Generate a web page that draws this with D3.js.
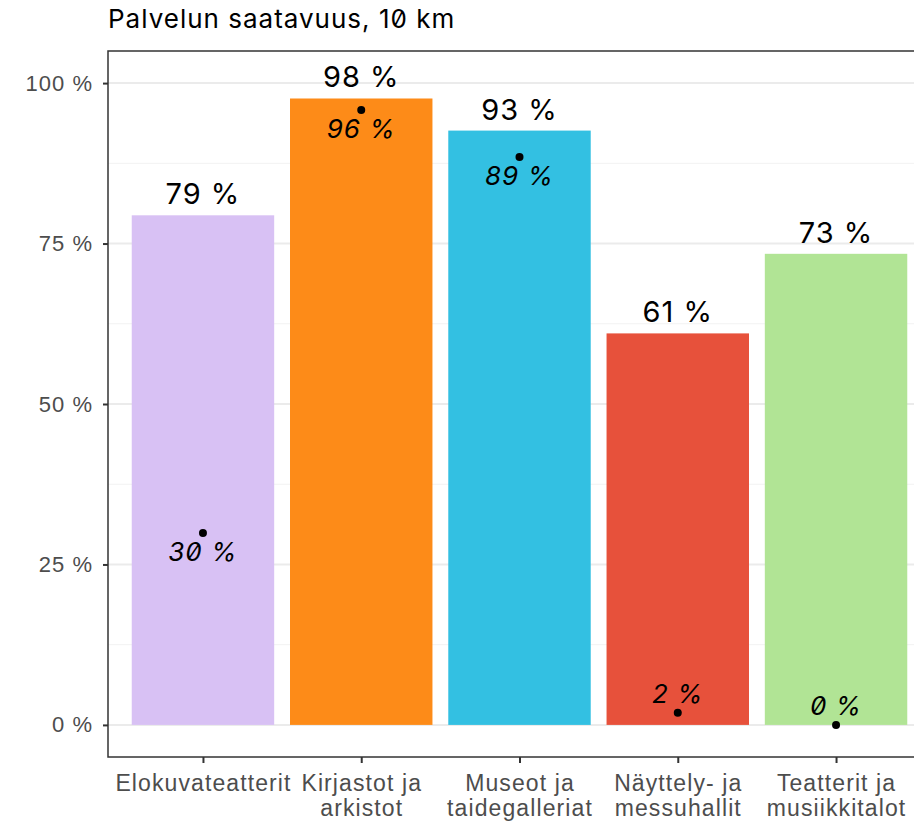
<!DOCTYPE html>
<html>
<head>
<meta charset="utf-8">
<script src="https://cdn.jsdelivr.net/npm/d3@7"></script>
<style>
  body { margin: 0; background: #fff; }
  svg { display: block; font-family: Inter, "Noto Sans", sans-serif; font-feature-settings: "zero" 1; }
</style>
</head>
<body>
<svg id="chart" width="914" height="822"></svg>
<script>
var categories = ['Elokuvateatterit', 'Kirjastot ja\narkistot', 'Museot ja\ntaidegalleriat', 'Näyttely- ja\nmessuhallit', 'Teatterit ja\nmusiikkitalot']
var barValues = [79.4, 97.6, 92.6, 61.0, 73.4]
var dotValues = [29.9, 95.8, 88.5, 1.9, 0.0]
var colors = ['#d8c1f4', '#fd8b18', '#33c0e2', '#e7513b', '#b1e495']
var yTicks = [0, 25, 50, 75, 100]
var title = 'Palvelun saatavuus, 10 km'

var svg = d3.select('#chart')

var panel = {left: 108, top: 51, right: 931, bottom: 757}

var x = d3.scalePoint().domain(categories).range([panel.left, panel.right]).padding(0.6)
var y = d3.scaleLinear().domain([-5, 105]).range([panel.bottom, panel.top])
var barW = x.step()*0.9

var data = categories.map((c, i) => ({cat: c, bar: barValues[i], dot: dotValues[i], color: colors[i]}))

// grid
var minor = d3.range(12.5, 100, 25)
svg.append('g').selectAll('line.minor').data(minor).join('line')
  .attr('x1', panel.left).attr('x2', panel.right)
  .attr('y1', d => y(d)).attr('y2', d => y(d))
  .attr('stroke', '#f2f2f2').attr('stroke-width', 1)
svg.append('g').selectAll('line.major').data(yTicks).join('line')
  .attr('x1', panel.left).attr('x2', panel.right)
  .attr('y1', d => y(d)).attr('y2', d => y(d))
  .attr('stroke', '#ebebeb').attr('stroke-width', 2)

// bars
svg.append('g').selectAll('rect').data(data).join('rect')
  .attr('x', d => x(d.cat) - barW/2)
  .attr('width', barW)
  .attr('y', d => y(d.bar))
  .attr('height', d => y(0) - y(d.bar))
  .attr('fill', d => d.color)

// bar labels
svg.append('g').selectAll('text').data(data).join('text')
  .attr('x', d => x(d.cat))
  .attr('y', d => y(d.bar) - 11)
  .attr('text-anchor', 'middle')
  .attr('font-size', 29)
  .attr('letter-spacing', 1)
  .attr('fill', '#000')
  .text(d => Math.round(d.bar) + ' %')

// dots
svg.append('g').selectAll('circle').data(data).join('circle')
  .attr('cx', d => x(d.cat))
  .attr('cy', d => y(d.dot))
  .attr('r', 4)
  .attr('fill', '#000')

svg.append('g').selectAll('text').data(data).join('text')
  .attr('x', d => x(d.cat))
  .attr('y', d => d.dot < 10 ? y(d.dot) - 10 : y(d.dot) + 28)
  .attr('text-anchor', 'middle')
  .attr('font-size', 26)
  .attr('letter-spacing', 1)
  .attr('font-style', 'italic')
  .attr('fill', '#000')
  .text(d => Math.round(d.dot) + ' %')

// panel border
svg.append('rect')
  .attr('x', panel.left).attr('y', panel.top)
  .attr('width', panel.right - panel.left).attr('height', panel.bottom - panel.top)
  .attr('fill', 'none').attr('stroke', '#333').attr('stroke-width', 1.5)

// y axis
var yAxis = svg.append('g').attr('transform', `translate(${panel.left},0)`)
  .call(d3.axisLeft(y).tickValues(yTicks).tickSize(5).tickPadding(10).tickFormat(d => d + ' %'))
yAxis.select('.domain').remove()
yAxis.selectAll('line').attr('stroke', '#333').attr('stroke-width', 2)
yAxis.selectAll('text').attr('font-size', 22).attr('letter-spacing', 1).attr('fill', '#4d4d4d').attr('font-family', null)

// x axis
var xAxis = svg.append('g').attr('transform', `translate(0,${panel.bottom})`)
  .call(d3.axisBottom(x).tickSize(6).tickFormat(''))
xAxis.select('.domain').remove()
xAxis.selectAll('line').attr('stroke', '#333').attr('stroke-width', 2)
xAxis.selectAll('.tick').append('text')
  .attr('text-anchor', 'middle')
  .attr('fill', '#4d4d4d')
  .attr('font-size', 23)
  .attr('letter-spacing', 1.1)
  .selectAll('tspan').data(d => d.split('\n')).join('tspan')
  .attr('x', 0)
  .attr('y', (d, i) => 34 + i*25)
  .text(d => d)

// title
svg.append('text')
  .attr('x', panel.left).attr('y', 28)
  .attr('font-size', 26)
  .attr('letter-spacing', 1)
  .attr('fill', '#000')
  .text(title)
</script>
</body>
</html>
